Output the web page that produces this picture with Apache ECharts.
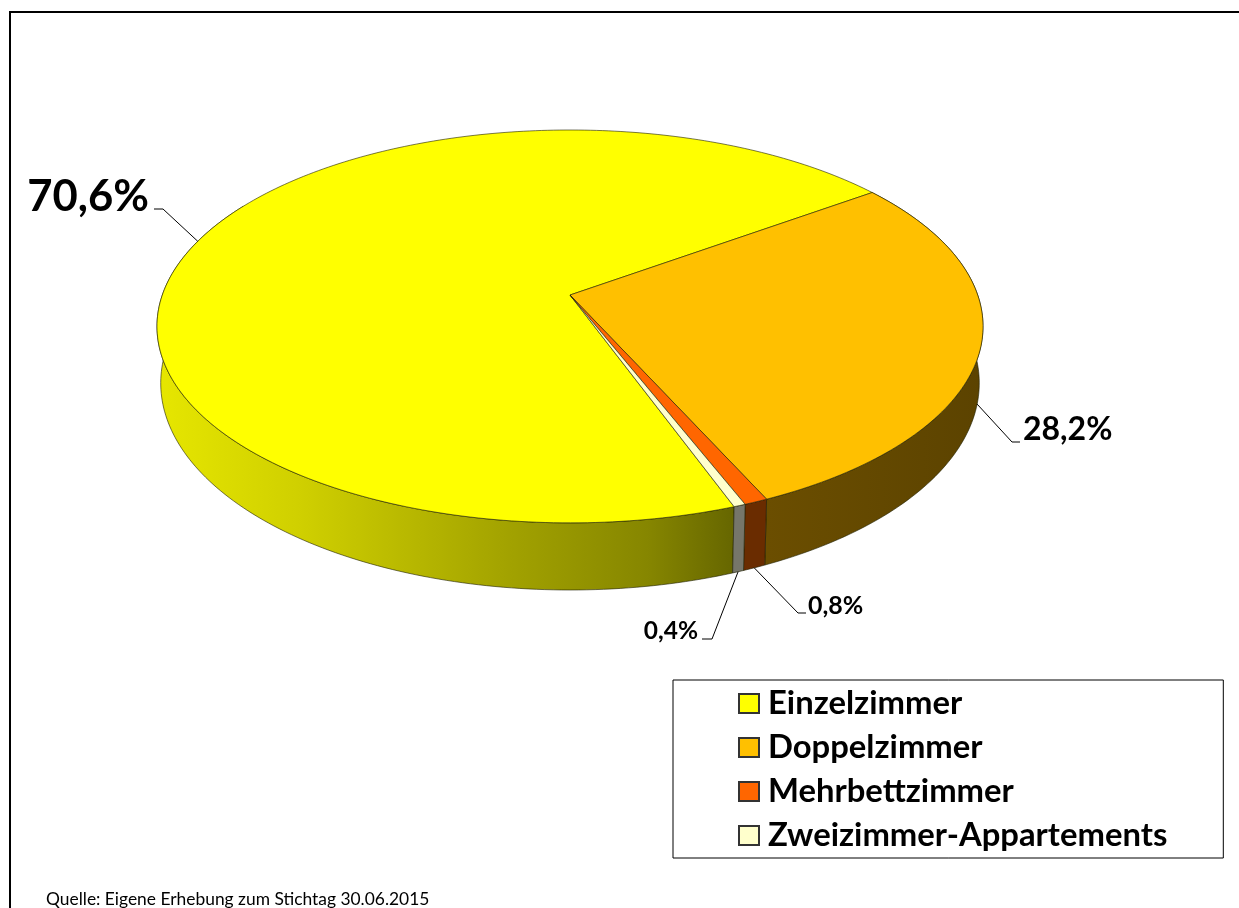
<!DOCTYPE html>
<html><head><meta charset="utf-8">
<style>html,body{margin:0;padding:0;background:#fff}#c{width:1239px;height:908px}</style>
<script src="https://cdn.jsdelivr.net/npm/echarts@6/dist/echarts.min.js"></script>
</head><body><div id="c"></div>
<script>
const categories = ['Einzelzimmer','Doppelzimmer','Mehrbettzimmer','Zweizimmer-Appartements'];
const shares = [70.6, 28.2, 0.8, 0.4];
const topColors = ['#FFFF00','#FFC000','#FF6600','#FFFFCC'];
const source = 'Quelle: Eigene Erhebung zum Stichtag 30.06.2015';

// layout, not data
const firstAngle = 160;
const topDisc = {cx:570, cy:295, a:407.7, b:191.4, k:0.16};
const baseDisc = {cx:570, cy:350, a:404, b:201.6, k:0.16};
const font = 'Lato, Carlito, sans-serif';
const wallFills = [
  {type:'linear',x:160,y:0,x2:734,y2:0,global:true,colorStops:[
    {offset:0,color:'#E6E600'},{offset:.25,color:'#CFCF00'},{offset:.6,color:'#A3A300'},{offset:.85,color:'#868600'},{offset:1,color:'#666600'}]},
  {type:'linear',x:767,y:0,x2:980,y2:0,global:true,colorStops:[{offset:0,color:'#6B4E00'},{offset:1,color:'#5C4300'}]},
  '#6A2C00',
  '#76766A'
];
const wallRange = [[null,300],[60,null],[null,null],[null,null]];
const labelCfg = [
  {onBase:false, bend:[163,209], end:[154,209], tx:149, ty:197, align:'right', size:43.6},
  {onBase:true,  bend:[1012,442], end:[1020,442], tx:1023, ty:430, align:'left', size:32},
  {onBase:true,  bend:[798,613], end:[806,613], tx:808, ty:606, align:'left', size:25},
  {onBase:true,  bend:[712,639], end:[702,639], tx:698, ty:631, align:'right', size:24.5}
];

const total = shares.reduce((s,v)=>s+v,0);
function project(d, deg){
  const t = deg*Math.PI/180, s = 1 + d.k*Math.cos(t);
  return [d.cx + d.a*Math.sin(t)/s, d.cy - d.b*Math.cos(t)/s];
}
function arc(d, from, to){
  const n = Math.max(2, Math.ceil(Math.abs(to-from))), pts = [];
  for(let i=0;i<=n;i++) pts.push(project(d, from+(to-from)*i/n));
  return pts;
}
function bounds(i){
  const before = shares.slice(0,i).reduce((s,v)=>s+v,0);
  return [firstAngle+360*before/total, firstAngle+360*(before+shares[i])/total];
}
const fmt = v => v.toFixed(1).replace('.',',')+'%';

function renderer(i){
  return function(){
    const [a0,a1] = bounds(i);
    const w0 = wallRange[i][0]!==null ? Math.max(a0,wallRange[i][0]) : a0;
    const w1 = wallRange[i][1]!==null ? Math.min(a1,wallRange[i][1]) : a1;
    const lab = labelCfg[i];
    const anchor = project(lab.onBase?baseDisc:topDisc,(a0+a1)/2);
    return {type:'group',silent:true,children:[
      {type:'polygon',z2:1,shape:{points:arc(topDisc,w0,w1).concat(arc(baseDisc,w1,w0))},
       style:{fill:wallFills[i],stroke:'rgba(30,30,0,0.75)',lineWidth:0.8}},
      {type:'polygon',z2:10,shape:{points:[[topDisc.cx,topDisc.cy]].concat(arc(topDisc,a0,a1))},
       style:{fill:topColors[i],stroke:'rgba(30,30,0,0.75)',lineWidth:0.8}},
      {type:'polyline',z2:20,shape:{points:[anchor,lab.bend,lab.end]},style:{fill:null,stroke:'#000',lineWidth:1}},
      {type:'text',z2:20,x:lab.tx,y:lab.ty,style:{text:fmt(shares[i]),font:'bold '+lab.size+'px '+font,fill:'#000',align:lab.align,verticalAlign:'middle'}}
    ]};
  };
}

const chart = echarts.init(document.getElementById('c'),null,{renderer:'canvas'});
chart.setOption({
  animation:false,
  backgroundColor:'#fff',
  title:{text:source,left:46,top:891,padding:0,textStyle:{fontFamily:font,fontSize:17.4,fontWeight:'normal',color:'#000'}},
  legend:{
    data:categories,orient:'vertical',left:673,top:680,align:'left',selectedMode:false,
    padding:[7,56,6,65],itemGap:11,itemWidth:20,itemHeight:19,icon:'rect',
    backgroundColor:'#fff',borderColor:'#000',borderWidth:1,
    textStyle:{fontFamily:font,fontSize:32.8,fontWeight:'bold',color:'#000',lineHeight:30,padding:[0,0,0,4]}
  },
  graphic:[{type:'polyline',silent:true,shape:{points:[[10,908],[10,12],[1239,12]]},style:{fill:null,stroke:'#000',lineWidth:2}}],
  series:categories.map((name,i)=>({
    type:'custom',name,coordinateSystem:'none',silent:true,
    data:[shares[i]],
    itemStyle:{color:topColors[i],borderColor:'#333',borderWidth:1},
    renderItem:renderer(i)
  }))
});
</script></body></html>
